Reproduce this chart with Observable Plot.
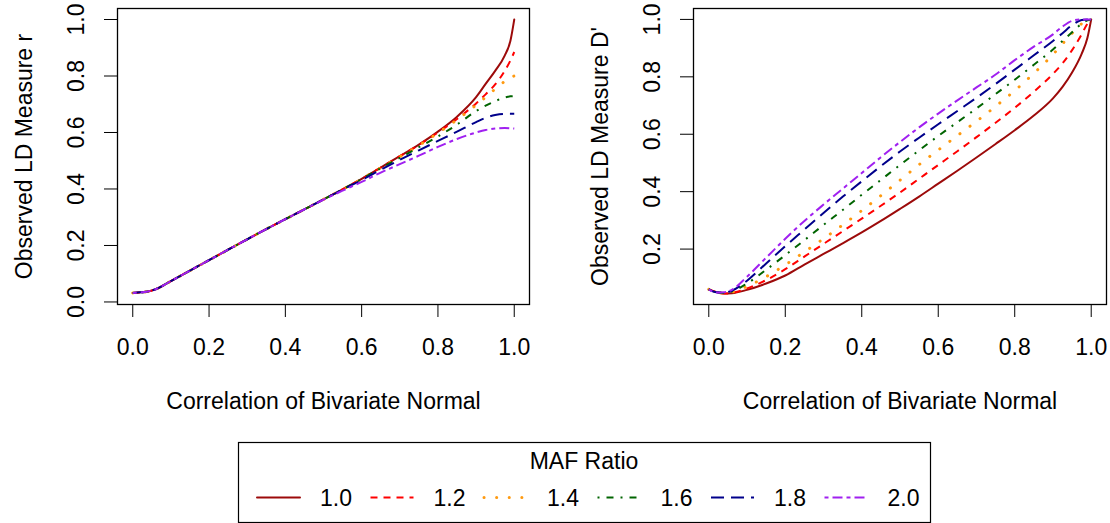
<!DOCTYPE html>
<html><head><meta charset="utf-8">
<script src="https://cdn.jsdelivr.net/npm/d3@7"></script>
<script src="https://cdn.jsdelivr.net/npm/@observablehq/plot@0.6"></script>
<style>
body{margin:0;background:#fff;}
#wrap{position:relative;width:1110px;height:523px;overflow:hidden;font-family:"Liberation Sans",Arial,Helvetica,sans-serif;}
#wrap > svg{position:absolute;}
</style></head><body><div id="wrap"></div>
<script>
// x grid: correlation of bivariate normal
const rho = [0, 0.02, 0.04, 0.06, 0.1, 0.15, 0.2, 0.25, 0.3, 0.35, 0.4, 0.45, 0.5, 0.55, 0.6, 0.65, 0.7, 0.75, 0.8, 0.85, 0.9, 0.925, 0.95, 0.975, 0.99, 1.0];

// Left panel: observed r
const r_10 = [0.032,0.034,0.037,0.045,0.074,0.111,0.148,0.185,0.222,0.258,0.293,0.328,0.363,0.399,0.436,0.476,0.516,0.557,0.603,0.656,0.725,0.772,0.818,0.872,0.925,1.000];
const r_12 = [0.032,0.034,0.037,0.045,0.074,0.111,0.148,0.185,0.222,0.258,0.293,0.328,0.363,0.399,0.436,0.476,0.516,0.556,0.600,0.648,0.703,0.735,0.770,0.818,0.855,0.885];
const r_14 = [0.032,0.034,0.037,0.045,0.074,0.111,0.148,0.185,0.222,0.258,0.293,0.328,0.363,0.399,0.436,0.475,0.514,0.554,0.598,0.645,0.697,0.725,0.754,0.781,0.795,0.800];
const r_16 = [0.032,0.034,0.037,0.045,0.074,0.111,0.148,0.185,0.222,0.258,0.293,0.328,0.363,0.399,0.435,0.474,0.510,0.548,0.586,0.628,0.676,0.695,0.711,0.724,0.728,0.729];
const r_18 = [0.032,0.034,0.037,0.045,0.074,0.111,0.148,0.185,0.222,0.258,0.293,0.328,0.363,0.398,0.432,0.468,0.503,0.537,0.570,0.603,0.637,0.652,0.662,0.666,0.666,0.666];
const r_20 = [0.032,0.034,0.037,0.045,0.074,0.111,0.148,0.185,0.222,0.258,0.293,0.328,0.362,0.394,0.425,0.458,0.488,0.518,0.549,0.577,0.600,0.609,0.614,0.616,0.615,0.614];

// Right panel: observed D'
const d_10 = [0.060,0.050,0.045,0.046,0.058,0.080,0.108,0.146,0.183,0.220,0.258,0.298,0.340,0.383,0.428,0.473,0.519,0.566,0.614,0.665,0.725,0.765,0.815,0.880,0.935,1.000];
const d_12 = [0.060,0.050,0.045,0.047,0.063,0.092,0.130,0.174,0.218,0.262,0.306,0.351,0.397,0.445,0.493,0.541,0.590,0.640,0.692,0.748,0.810,0.847,0.893,0.948,0.985,1.000];
const d_14 = [0.060,0.050,0.046,0.050,0.070,0.104,0.145,0.190,0.236,0.284,0.334,0.386,0.440,0.494,0.545,0.595,0.645,0.697,0.752,0.812,0.878,0.915,0.952,0.985,0.998,1.000];
const d_16 = [0.060,0.050,0.047,0.052,0.080,0.128,0.179,0.231,0.284,0.336,0.389,0.441,0.493,0.544,0.594,0.642,0.690,0.740,0.790,0.842,0.895,0.925,0.955,0.985,0.997,1.000];
const d_18 = [0.060,0.050,0.049,0.055,0.090,0.150,0.210,0.268,0.326,0.382,0.436,0.489,0.540,0.588,0.635,0.681,0.727,0.775,0.825,0.875,0.925,0.952,0.980,0.998,1.000,1.000];
const d_20 = [0.060,0.049,0.050,0.058,0.104,0.170,0.236,0.298,0.355,0.410,0.465,0.520,0.573,0.624,0.672,0.718,0.763,0.808,0.858,0.905,0.948,0.975,0.995,1.000,1.000,1.000];

const mafRatios = ["1.0", "1.2", "1.4", "1.6", "1.8", "2.0"];
const colors = ["#9c0a0a", "#ff0000", "#ff9a10", "#006400", "#00008b", "#a020f0"];
const dashes = [null, "7,6", "0.1,12.5", "2,7,7,7", "13,7", "4,4,10,4"];
const caps = ["round", "butt", "round", "butt", "butt", "butt"];
const widths = [2, 2, 3, 2, 2, 2];

const xTicks = [0, 0.2, 0.4, 0.6, 0.8, 1.0];
const yTicksLeft = [0, 0.2, 0.4, 0.6, 0.8, 1.0];
const yTicksRight = [0.2, 0.4, 0.6, 0.8, 1.0];
const xTitle = "Correlation of Bivariate Normal";
const yTitleLeft = "Observed LD Measure r";
const yTitleRight = "Observed LD Measure D'";
const legendTitle = "MAF Ratio";

const FONT = '"Liberation Sans", Arial, Helvetica, sans-serif';
const FS = 23;

function panel(series, yDomain, yTicks, yTitle, ml, mr) {
  const marks = [];
  series.forEach((vals, i) => {
    const data = rho.map((x, j) => ({x, y: vals[j]}));
    marks.push(Plot.line(data, {
      x: "x", y: "y", stroke: colors[i], strokeWidth: widths[i],
      strokeDasharray: dashes[i] || undefined, strokeLinecap: caps[i],
      curve: "monotone-x"
    }));
  });
  marks.push(Plot.frame({stroke: "black", strokeWidth: 1.3}));
  marks.push(Plot.text(yTicks, {
    y: d => d, text: d => d.toFixed(1), frameAnchor: "left", dx: -41,
    rotate: -90, textAnchor: "middle", lineAnchor: "middle", fontSize: FS, fill: "black"
  }));
  marks.push(Plot.text([yTitle], {
    text: d => d, frameAnchor: "left", dx: -93, rotate: -90,
    textAnchor: "middle", lineAnchor: "middle", fontSize: FS, fill: "black"
  }));
  marks.push(Plot.text([xTitle], {
    text: d => d, frameAnchor: "bottom", dy: 97,
    textAnchor: "middle", lineAnchor: "middle", fontSize: FS, fill: "black"
  }));
  return Plot.plot({
    width: 555, height: 430,
    marginLeft: ml, marginRight: mr, marginTop: 8, marginBottom: 126,
    style: {fontSize: FS + "px", fontFamily: FONT, color: "black", background: "transparent", overflow: "visible"},
    x: {domain: [-0.04, 1.04], ticks: xTicks, tickSize: 13, tickPadding: 21,
        tickFormat: d => d.toFixed(1), label: null},
    y: {domain: yDomain, ticks: yTicks, tickSize: 13, tickPadding: 2,
        tickFormat: () => "", label: null},
    marks
  });
}

const wrap = document.getElementById("wrap");
const left = panel([r_10, r_12, r_14, r_16, r_18, r_20], [-0.009, 1.039], yTicksLeft, yTitleLeft, 117, 26);
left.style.left = "0px"; left.style.top = "0px";
wrap.appendChild(left);
const right = panel([d_10, d_12, d_14, d_16, d_18, d_20], [0.007, 1.038], yTicksRight, yTitleRight, 138, 4);
right.style.left = "555px"; right.style.top = "0px";
wrap.appendChild(right);

// Legend below the panels
const lg = d3.create("svg").attr("width", 1110).attr("height", 93)
  .style("left", "0px").style("top", "430px")
  .style("font-family", FONT).style("font-size", FS + "px");
lg.append("rect").attr("x", 238.5).attr("y", 12.5).attr("width", 692).attr("height", 80)
  .attr("fill", "none").attr("stroke", "black").attr("stroke-width", 1.2);
lg.append("text").attr("x", 584).attr("y", 39).attr("text-anchor", "middle").attr("fill", "black").text(legendTitle);
mafRatios.forEach((lab, i) => {
  const tx = 320 + 113.5 * i;
  const ln = lg.append("line").attr("x1", tx - 63).attr("x2", tx - 20).attr("y1", 67.5).attr("y2", 67.5)
    .attr("stroke", colors[i]).attr("stroke-width", widths[i]).attr("stroke-linecap", caps[i]);
  if (dashes[i]) ln.attr("stroke-dasharray", dashes[i]);
  lg.append("text").attr("x", tx).attr("y", 75.5).attr("fill", "black").text(lab);
});
wrap.appendChild(lg.node());
</script></body></html>
